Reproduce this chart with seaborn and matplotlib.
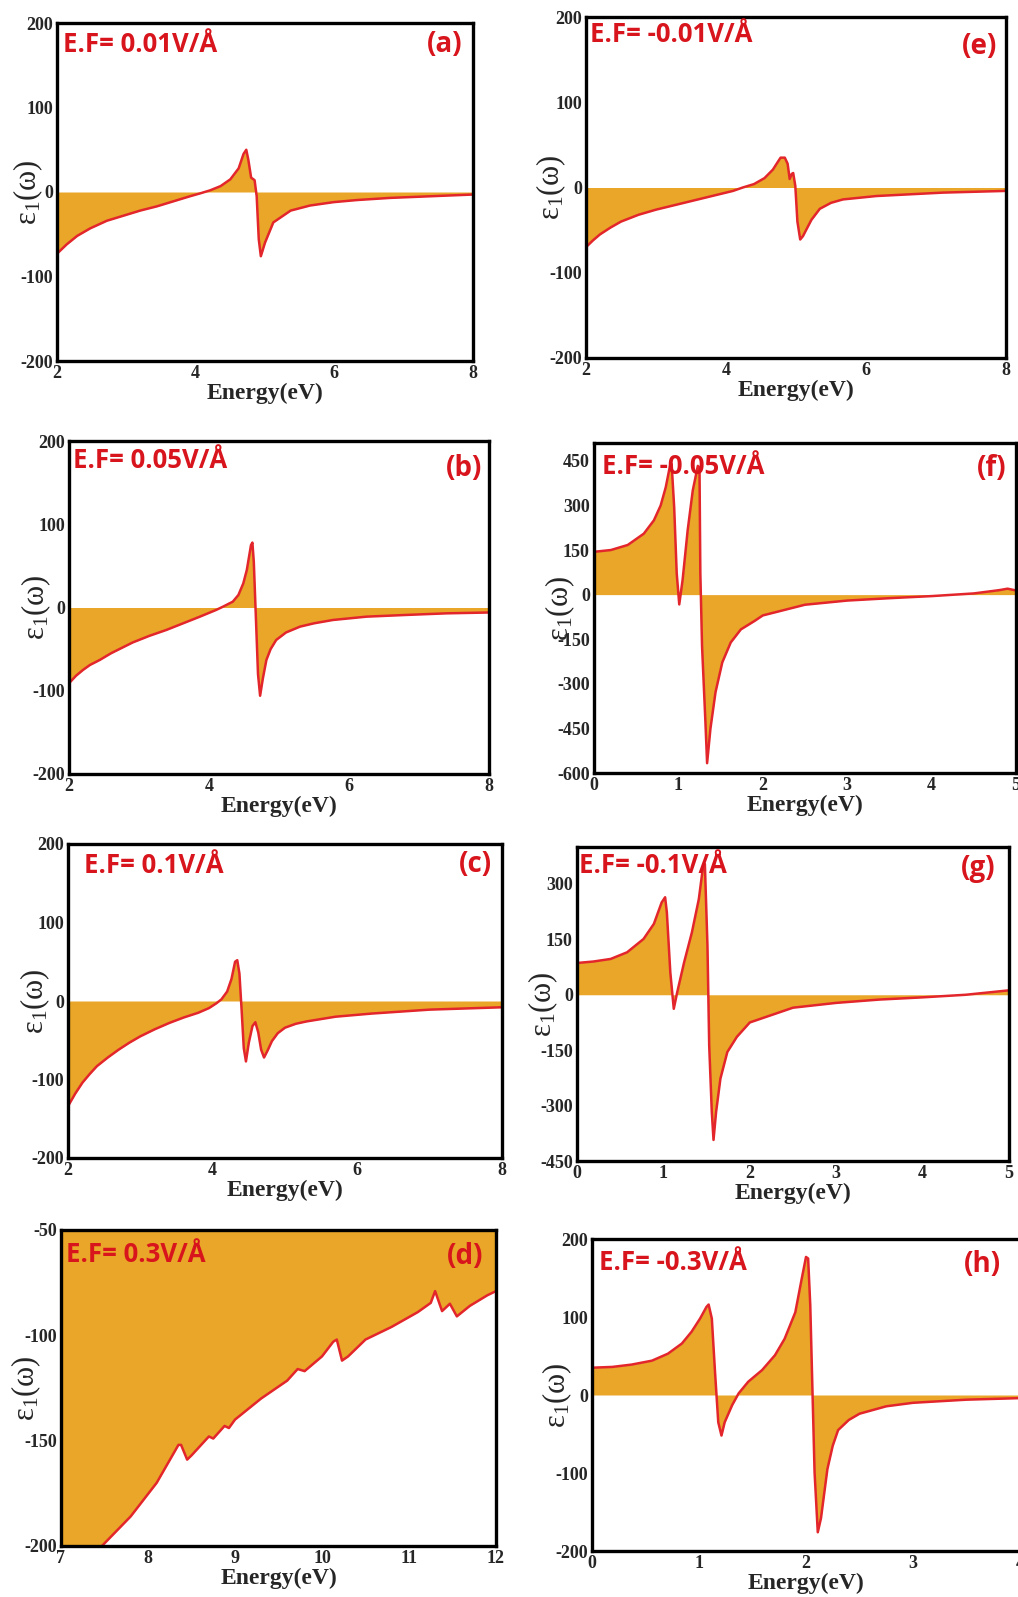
import matplotlib
matplotlib.use("Agg")
import matplotlib.pyplot as plt
import seaborn as sns

# Curves (energy in eV, eps1)
a_x = [2.0, 2.14, 2.29, 2.48, 2.72, 2.96, 3.2, 3.44, 3.68, 3.92, 4.07, 4.21, 4.36, 4.5, 4.62, 4.69, 4.73, 4.76, 4.8, 4.85, 4.88, 4.91, 4.94, 5.0, 5.12, 5.37, 5.65, 5.99, 6.33, 6.8, 7.4, 8.0]
a_y = [-73, -62, -52, -43, -34, -28, -22, -17, -11, -5, -1.5, 2, 7, 15, 28, 45, 50, 38, 17, 14, -5, -56, -76, -60, -36, -22, -16, -12, -9.5, -7, -5, -3]

e_x = [2.0, 2.1, 2.2, 2.35, 2.5, 2.75, 3.0, 3.3, 3.6, 3.9, 4.1, 4.24, 4.4, 4.55, 4.67, 4.74, 4.78, 4.84, 4.88, 4.91, 4.94, 4.96, 4.99, 5.02, 5.06, 5.1, 5.15, 5.22, 5.34, 5.5, 5.67, 6.15, 7.1, 8.0]
e_y = [-70, -62, -55, -47, -40, -32, -26, -20, -14, -8, -4, 0, 4, 11, 21, 30, 35, 35, 28, 10, 16, 17, 2, -40, -61, -57, -49, -38, -25, -18, -14, -10, -6, -4]

b_x = [2.0, 2.1, 2.2, 2.3, 2.44, 2.6, 2.91, 3.15, 3.39, 3.6, 3.87, 4.1, 4.2, 4.34, 4.42, 4.49, 4.54, 4.58, 4.6, 4.62, 4.64, 4.66, 4.7, 4.73, 4.77, 4.82, 4.88, 4.96, 5.1, 5.3, 5.5, 5.77, 6.25, 6.8, 7.4, 8.0]
b_y = [-91, -82, -75, -69, -63, -55, -42, -34, -27, -20, -11, -3, 1, 7, 15, 29, 45, 65, 75, 78, 55, 10, -80, -106, -85, -63, -50, -39, -30, -23, -19, -15, -11, -9, -7, -6]

c_x = [2.0, 2.1, 2.2, 2.3, 2.4, 2.55, 2.7, 2.85, 3.0, 3.2, 3.4, 3.6, 3.8, 3.95, 4.05, 4.12, 4.2, 4.26, 4.31, 4.34, 4.37, 4.4, 4.43, 4.46, 4.5, 4.55, 4.59, 4.63, 4.67, 4.71, 4.76, 4.82, 4.9, 5.0, 5.15, 5.3, 5.7, 6.2, 7.0, 8.0]
c_y = [-134, -118, -104, -93, -83, -72, -62, -53, -45, -36, -28, -21, -15, -9, -3, 2, 12, 28, 50, 52, 35, -11, -60, -77, -53, -32, -27, -40, -62, -72, -63, -51, -41, -34, -29, -26, -20, -16, -11, -8]

d_x = [7.0, 7.47, 7.8, 8.1, 8.35, 8.38, 8.45, 8.5, 8.7, 8.75, 8.88, 8.93, 9.0, 9.3, 9.6, 9.72, 9.8, 10.0, 10.13, 10.17, 10.23, 10.3, 10.5, 10.8, 11.1, 11.25, 11.3, 11.38, 11.47, 11.55, 11.7, 11.9, 12.0]
d_y = [-225, -200, -186, -170, -152, -152, -159, -157, -148, -149, -143, -144, -140, -130, -121.5, -116, -117, -110, -103, -102, -112, -110, -102, -96, -89, -84.6, -79, -88.5, -85, -91, -86, -81, -79]

f_x = [0.0, 0.2, 0.4, 0.59, 0.71, 0.79, 0.85, 0.9, 0.92, 0.95, 0.98, 1.01, 1.05, 1.11, 1.17, 1.23, 1.25, 1.26, 1.28, 1.32, 1.34, 1.38, 1.44, 1.52, 1.62, 1.74, 1.9, 2.0, 2.5, 3.0, 3.5, 4.0, 4.5, 4.8, 4.9, 5.0]
f_y = [144, 150, 167, 205, 250, 300, 361, 433, 439, 294, 72, -33, 50, 217, 350, 433, 428, 72, -172, -428, -567, -450, -328, -228, -161, -117, -89, -70, -34, -20, -12, -5, 4, 15, 20, 14]

g_x = [0.0, 0.19, 0.39, 0.58, 0.77, 0.89, 0.98, 1.02, 1.04, 1.08, 1.12, 1.16, 1.24, 1.33, 1.41, 1.46, 1.48, 1.51, 1.53, 1.56, 1.58, 1.61, 1.66, 1.74, 1.85, 2.0, 2.5, 3.0, 3.5, 4.0, 4.5, 5.0]
g_y = [86, 90, 97, 115, 151, 192, 250, 264, 223, 61, -38, 7, 88, 169, 259, 349, 354, 133, -137, -317, -393, -317, -227, -155, -114, -75, -35, -22, -13, -7, 0, 12]

h_x = [0.0, 0.19, 0.37, 0.56, 0.71, 0.84, 0.93, 1.01, 1.07, 1.09, 1.12, 1.15, 1.18, 1.21, 1.24, 1.31, 1.37, 1.46, 1.59, 1.71, 1.8, 1.9, 1.96, 2.0, 2.02, 2.04, 2.06, 2.08, 2.11, 2.14, 2.2, 2.25, 2.3, 2.4, 2.5, 2.75, 3.0, 3.5, 4.0]
h_y = [35, 36, 39, 44, 53, 66, 81, 98, 113, 116, 98, 29, -35, -52, -35, -13, 2, 17, 32, 51, 72, 106, 149, 177, 175, 115, 8, -99, -176, -158, -95, -65, -45, -32, -24, -14.5, -10, -6, -4]

labels = ["E.F= 0.01V/Å", "E.F= 0.05V/Å", "E.F= 0.1V/Å", "E.F= 0.3V/Å",
          "E.F= -0.01V/Å", "E.F= -0.05V/Å", "E.F= -0.1V/Å", "E.F= -0.3V/Å"]
letters = ["(a)", "(b)", "(c)", "(d)", "(e)", "(f)", "(g)", "(h)"]

ticks_2_8 = [2, 4, 6, 8]
ticks_0_5 = [0, 1, 2, 3, 4, 5]
ticks_7_12 = [7, 8, 9, 10, 11, 12]
ticks_0_4 = [0, 1, 2, 3, 4]
yt_200 = [-200, -100, 0, 100, 200]
yt_f = [-600, -450, -300, -150, 0, 150, 300, 450]
yt_g = [-450, -300, -150, 0, 150, 300]
yt_d = [-200, -150, -100, -50]

W, H = 1018, 1597
FILL = "#E9A628"
LINE = "#E3262B"
TXT = "#D8141C"

sns.set_style("white")
plt.rcParams["mathtext.fontset"] = "custom"
plt.rcParams["mathtext.rm"] = "Liberation Serif"
plt.rcParams["mathtext.it"] = "Liberation Serif"

fig = plt.figure(figsize=(W / 100, H / 100), dpi=100)

# panel: data, xlim, ylim, xticks, yticks, box (l, t, r, b px), text pos, letter pos, ylabel offset px
panels = [
    (a_x, a_y, (2, 8), (-200, 200), ticks_2_8, yt_200, (57, 23, 473, 361), (63, 45), (463, 45), -29),
    (b_x, b_y, (2, 8), (-200, 200), ticks_2_8, yt_200, (69, 441, 489, 774), (73, 461), (482, 468), -33),
    (c_x, c_y, (2, 8), (-200, 200), ticks_2_8, yt_200, (68, 844, 502, 1158), (84, 866), (492, 864), -33),
    (d_x, d_y, (7, 12), (-200, -50), ticks_7_12, yt_d, (61, 1230, 496, 1546), (66, 1254), (483, 1257), -35),
    (e_x, e_y, (2, 8), (-200, 200), ticks_2_8, yt_200, (586, 17, 1006, 358), (590, 35), (997, 46), -35),
    (f_x, f_y, (0, 5), (-600, 510), ticks_0_5, yt_f, (594, 443, 1016, 773), (602, 466), (1006, 468), -34),
    (g_x, g_y, (0, 5), (-450, 400), ticks_0_5, yt_g, (577, 847, 1009, 1161), (579, 866), (996, 869), -34),
    (h_x, h_y, (0, 4), (-200, 200), ticks_0_4, yt_200, (592, 1239, 1020, 1551), (599, 1262), (1001, 1265), -35),
]

for i, (xs, ys, xl, yl, xt, yt, box, tpos, lpos, yoff) in enumerate(panels):
    l, t, r, b = box
    ax = fig.add_axes([l / W, 1 - b / H, (r - l) / W, (b - t) / H])
    ax.fill_between(xs, ys, 0, color=FILL, linewidth=0, zorder=1)
    sns.lineplot(x=xs, y=ys, ax=ax, color=LINE, linewidth=1.8, estimator=None, zorder=2)
    ax.set_xlim(*xl)
    ax.set_ylim(*yl)
    ax.set_xticks(xt)
    ax.set_xticklabels([str(v) for v in xt])
    ax.set_yticks(yt)
    ax.set_yticklabels([str(v) for v in yt])
    ax.tick_params(direction="in", length=7, width=0.8, color="#777777", pad=3)
    for lab in ax.get_xticklabels() + ax.get_yticklabels():
        lab.set_fontfamily("Liberation Serif")
        lab.set_fontweight("bold")
        lab.set_fontsize(13)
    for sp in ax.spines.values():
        sp.set_color("black")
        sp.set_linewidth(2.4)
        sp.set_zorder(5)
    ax.set_xlabel("Energy(eV)", fontfamily="Liberation Serif", fontweight="bold", fontsize=17)
    ax.xaxis.set_label_coords(0.5, -32 / (b - t))
    ax.xaxis.label.set_verticalalignment("center")
    ax.set_ylabel(r"$\mathrm{ε_1(ω)}$", fontsize=22)
    ax.yaxis.set_label_coords(yoff / (r - l), 0.5)
    ax.yaxis.label.set_verticalalignment("center")
    fig.text(tpos[0] / W, 1 - tpos[1] / H, labels[i], color=TXT, fontfamily="Open Sans",
             fontweight="bold", fontsize=18.5, ha="left", va="center", zorder=10)
    fig.text(lpos[0] / W, 1 - lpos[1] / H, letters[i], color=TXT, fontfamily="Open Sans",
             fontweight="bold", fontsize=20, ha="right", va="center", zorder=10)

fig.savefig("out.png", dpi=100)
